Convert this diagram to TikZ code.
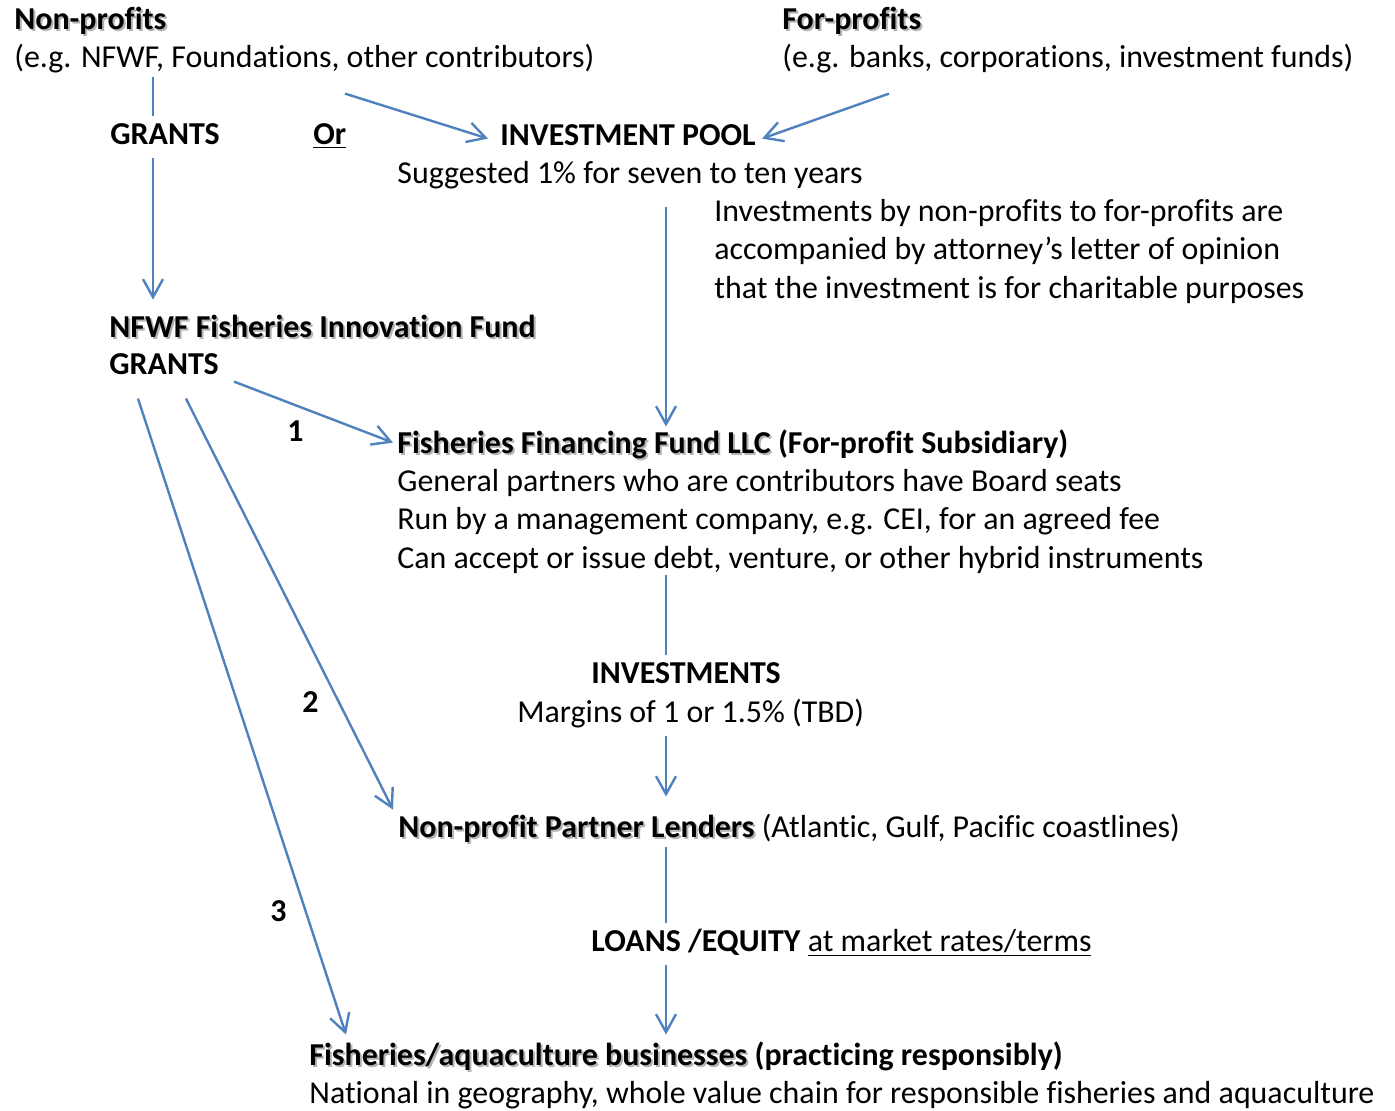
\documentclass[tikz,border=0pt]{standalone}
\usepackage{fontspec}
\setmainfont[Ligatures=NoCommon]{Carlito}
\usepackage{tikz}
\usetikzlibrary{arrows.meta, calc, backgrounds}
\definecolor{flowblue}{RGB}{79,129,189}
\definecolor{shadowgray}{RGB}{180,180,180}
\newcommand{\txtshadow}[1]{\rlap{\kern1pt\raisebox{-1pt}{\textcolor{shadowgray}{#1}}}#1}

\begin{document}
\begin{tikzpicture}[x=0.5pt, y=-0.5pt,
    txt/.style={anchor=base west, inner sep=0pt, font=\fontsize{15.95}{19.2}\selectfont},
    head/.style={txt, font=\fontsize{15.95}{19.2}\selectfont\bfseries},
    tag/.style={txt, fill=white, inner sep=1pt},
    flow/.style={flowblue, line width=1.2pt, -{Straight Barb[length=9pt,width=10pt]}}]
    \useasboundingbox (0,0) rectangle (1395,1110);

    \begin{scope}[yshift=-0.8pt]
    % Sources
    \node[head] (np1) at (14,28) {\txtshadow{Non-profits}};
    \node[txt] (np2) at (14,66) {(e.g. NFWF, Foundations, other contributors)};
    \node[head] (fp1) at (782,28) {\txtshadow{For-profits}};
    \node[txt] (fp2) at (782,66) {(e.g. banks, corporations, investment funds)};

    % Grants or investment pool
    \node[tag] (grants1) at (108,143) {\textbf{GRANTS}\strut};
    \node[head] (or) at (313,143) {\underline{Or}};
    \node[head] (pool) at (500,144) {INVESTMENT POOL};
    \node[txt] (poolsub) at (397,182) {Suggested 1\% for seven to ten years};
    \node[txt] (opin1) at (714,220) {Investments by non-profits to for-profits are};
    \node[txt] (opin2) at (714,258) {accompanied by attorney’s letter of opinion};
    \node[txt] (opin3) at (714,297) {that the investment is for charitable purposes};

    % Innovation fund
    \node[head] (nfwf) at (109,336) {\txtshadow{NFWF Fisheries Innovation Fund}};
    \node[head] (grants2) at (109,373) {GRANTS};

    % Financing fund
    \node[head] (ffund) at (397,452) {\txtshadow{Fisheries Financing Fund LLC} (For-profit Subsidiary)};
    \node[txt] (ff1) at (397,490) {General partners who are contributors have Board seats};
    \node[txt] (ff2) at (397,528) {Run by a management company, e.g. CEI, for an agreed fee};
    \node[txt] (ff3) at (397,567) {Can accept or issue debt, venture, or other hybrid instruments};
    \node[tag] (inv) at (589,682) {\textbf{INVESTMENTS}\strut};
    \node[tag] (marg) at (515,721) {Margins of 1 or 1.5\% (TBD)\strut};

    % Lenders and businesses
    \node[txt] (lend) at (398,836) {\textbf{\txtshadow{Non-profit Partner Lenders}} (Atlantic, Gulf, Pacific coastlines)};
    \node[tag] (loans) at (589,950) {\textbf{LOANS /EQUITY} \underline{at market rates/terms}\strut};
    \node[head] (biz) at (309,1064) {\txtshadow{Fisheries/aquaculture businesses} (practicing responsibly)};
    \node[txt] (biz2) at (309,1102) {National in geography, whole value chain for responsible fisheries and aquaculture};

    % Route numbers
    \node[head] (r1) at (287,440) {1};
    \node[head] (r2) at (302,711) {2};
    \node[head] (r3) at (270,920) {3};

    % Connectors (behind the labels)
    \begin{scope}[on background layer]
        \draw[flow] ($(np2.base west)+(139,9)$) -- ($(nfwf.base west)+(44,-38)$);
        \draw[flow] ($(np2.base west)+(331,26)$) -- ($(pool.base west)+(-12,-7)$);
        \draw[flow] ($(fp2.base west)+(107,26)$) -- ($(pool.base east)+(6,-7)$);
        \draw[flow] ($(poolsub.base west)+(269,23)$) -- ($(ffund.base west)+(269,-27)$);
        \draw[flow] ($(grants2.base west)+(125,7)$) -- ($(ffund.base west)+(-4,-11)$);
        \draw[flow] ($(grants2.base west)+(77,24)$) -- ($(lend.base west)+(-5,-28)$);
        \draw[flow] ($(grants2.base west)+(29,24)$) -- ($(biz.base west)+(37,-31)$);
        \draw[flow] ($(ff3.base west)+(269,6)$) -- ($(lend.base west)+(268,-41)$);
        \draw[flow] ($(lend.base west)+(268,9)$) -- ($(biz.base west)+(357,-31)$);
    \end{scope}
    \end{scope}

\end{tikzpicture}
\end{document}
